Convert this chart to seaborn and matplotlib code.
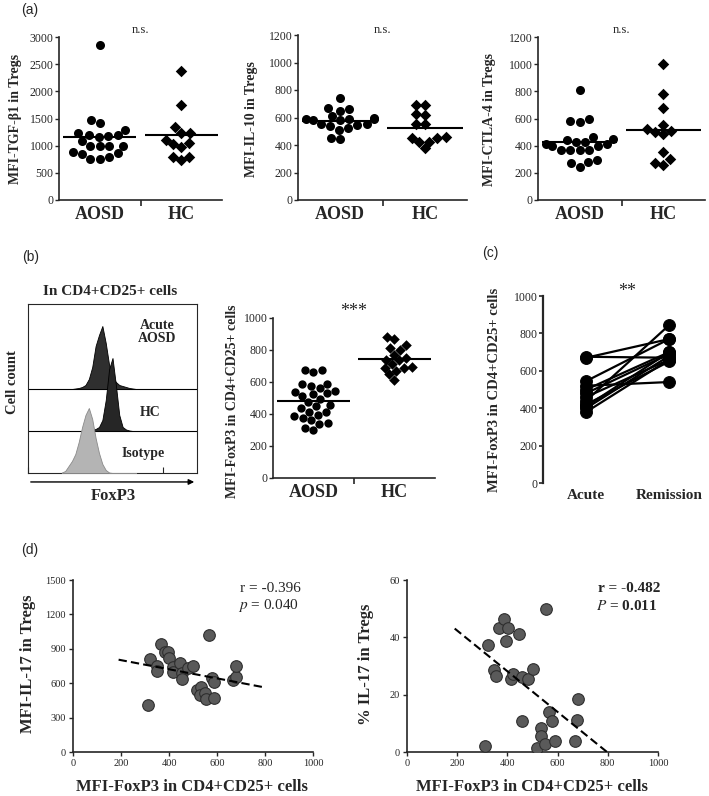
import numpy as np
import pandas as pd
import matplotlib
matplotlib.use("Agg")
import matplotlib.pyplot as plt
import seaborn as sns

# values
groups = ["AOSD", "HC"]

tgf_aosd = [2860, 1480, 1410, 1290, 1240, 1200, 1190, 1180, 1165, 1090,
            1000, 1000, 1000, 1000, 890, 870, 840, 800, 760, 760]
tgf_hc = [2370, 1750, 1340, 1230, 1240, 1110, 970, 1030, 1040, 790, 740, 790]

il10_aosd = [740, 665, 670, 650, 590, 610, 590, 590, 600, 580, 585,
             550, 545, 550, 540, 525, 510, 450, 445]
il10_hc = [690, 690, 620, 625, 550, 550, 455, 450, 420, 375, 425, 450]

ctla4_aosd = [810, 595, 575, 580, 465, 445, 450, 410, 425, 430, 415,
              395, 400, 370, 365, 370, 370, 295, 275, 280, 245]
ctla4_hc = [1000, 780, 675, 525, 500, 485, 510, 555, 355, 300, 270, 260]

foxp3_aosd = [675, 665, 675, 585, 560, 585, 575, 545, 510, 540, 525, 530, 495,
              475, 455, 435, 450, 410, 385, 375, 395, 415, 345, 310, 300, 340, 360]
foxp3_hc = [880, 870, 830, 800, 810, 770, 740, 750, 735, 710, 695, 685, 690,
            670, 650, 615]

# (b) flow histogram: FoxP3 intensity (log10 decades) and curve heights
foxp3_decade = [1.0, 1.1, 1.2, 1.3, 1.4, 1.5, 1.6, 1.7, 1.8, 1.9, 2.0, 2.1,
                2.2, 2.3, 2.4, 2.5, 2.6, 2.7, 2.8, 2.9, 3.0, 3.1, 3.2]
acute_counts = [0, 0, 0, 0, 0.5, 1, 2, 4, 10, 22, 43, 54, 63, 46, 24, 12, 7, 4, 3, 2, 1, 0.5, 0]
hc_counts = [0, 0, 0, 0, 0, 0, 0, 0, 0.5, 1, 2, 4, 11, 31, 62, 73, 46, 16, 4, 1.5, 0.5, 0, 0]
iso_counts = [0.5, 2, 7, 12, 19, 31, 46, 58, 65, 54, 35, 20, 9, 3, 0.5, 0, 0, 0, 0, 0, 0, 0, 0]

# (c) paired samples
stages = ["Acute", "Remission"]
foxp3_acute = [675, 670, 545, 520, 500, 480, 460, 440, 420, 410, 400, 380]
foxp3_remission = [670, 770, 770, 540, 700, 690, 660, 845, 650, 700, 680, 660]

# (d) correlations
d_foxp3_left = [311, 321, 349, 352, 367, 382, 397, 400, 418, 416, 446, 456, 456, 478,
                501, 515, 532, 529, 550, 553, 566, 578, 589, 587, 665, 679, 681]
il17_mfi = [408, 810, 749, 705, 939, 875, 872, 822, 743, 700, 778, 691, 633, 735,
            749, 545, 563, 501, 516, 466, 1020, 641, 609, 475, 630, 656, 749]
d_foxp3_right = [311, 322, 348, 353, 367, 387, 395, 401, 415, 424, 446, 457, 457,
                 483, 501, 517, 534, 532, 550, 554, 566, 579, 589, 669, 678, 682]
il17_pct = [2.1, 37.3, 28.6, 26.6, 43.4, 46.5, 38.8, 43.1, 25.6, 27.2, 41.1, 26.2, 10.8,
            25.3, 29.1, 1.4, 8.5, 5.5, 2.9, 49.9, 14.0, 10.7, 3.8, 3.8, 11.3, 18.4]
fit_span = [190, 800]

sns.set_theme(style="ticks")
plt.rcParams["font.family"] = ["Liberation Serif", "DejaVu Serif"]
plt.rcParams["mathtext.fontset"] = "stix"
plt.rcParams["axes.linewidth"] = 1.2

W, H = 709, 796
fig = plt.figure(figsize=(W / 100, H / 100), dpi=100)


def px_axes(l, t, r, b):
    return fig.add_axes([l / W, 1 - b / H, (r - l) / W, (b - t) / H])


def px_text(x, y, s, **kw):
    kw.setdefault("ha", "center")
    kw.setdefault("va", "center")
    fig.text(x / W, 1 - y / H, s, **kw)


def dot_panel(ax, aosd, hc, ymax, step, size=6.5):
    sns.swarmplot(x=["AOSD"] * len(aosd), y=aosd, order=groups, ax=ax,
                  color="black", marker="o", size=size)
    sns.swarmplot(x=["HC"] * len(hc), y=hc, order=groups, ax=ax,
                  color="black", marker="D", size=size * 0.9)
    for i, vals in enumerate([aosd, hc]):
        ax.hlines(np.mean(vals), i - 0.45, i + 0.45, color="black", lw=1.5, zorder=5)
    ax.set_xlim(-0.5, 1.5)
    ax.set_ylim(0, ymax)
    ax.set_yticks(range(0, ymax + 1, step))
    ax.set_xticks([0, 1])
    ax.set_xticklabels(groups, fontweight="bold", fontsize=13)
    ax.set_xticks([0.5], minor=True)
    ax.tick_params(axis="x", which="major", length=0, pad=4)
    ax.tick_params(axis="x", which="minor", length=4, width=1.2)
    ax.tick_params(axis="y", length=3, width=1, labelsize=8.5, pad=1)
    ax.set_xlabel("")
    ax.set_ylabel("")
    sns.despine(ax=ax)


# ---- (a) ----
a_specs = [
    (tgf_aosd, tgf_hc, 3000, 500, "MFI-TGF-β1 in Tregs", (59, 37, 222, 200), 16),
    (il10_aosd, il10_hc, 1200, 200, "MFI-IL-10 in Tregs", (298, 35, 467, 200), 252),
    (ctla4_aosd, ctla4_hc, 1200, 200, "MFI-CTLA-4 in Tregs", (538, 37, 705, 200), 490),
]
for aosd, hc, ymax, step, lab, box, lx in a_specs:
    ax = px_axes(*box)
    dot_panel(ax, aosd, hc, ymax, step)
    px_text(lx, 119, lab, rotation=90, fontweight="bold", fontsize=10)
    px_text((box[0] + box[2]) / 2, 30, "n.s.", fontsize=9)

# ---- (b) histogram ----
ax = px_axes(28, 304, 197, 473)
xs = 10 ** np.array(foxp3_decade)
ax.axhline(84, color="black", lw=0.8, zorder=1)
ax.axhline(42, color="black", lw=0.8, zorder=1)
ax.fill_between(xs, 84, 84 + np.array(acute_counts), color="#2f2f2f",
                edgecolor="black", lw=0.6, zorder=2)
ax.fill_between(xs, 42, 42 + np.array(hc_counts), color="#262626",
                edgecolor="black", lw=0.6, zorder=3)
ax.fill_between(xs, 0, np.array(iso_counts), color="#b4b4b4",
                edgecolor="#8a8a8a", lw=0.6, zorder=4)
ax.set_xscale("log")
ax.set_xlim(1, 1e5)
ax.set_ylim(0, 169)
ax.set_yticks([])
ax.tick_params(axis="x", which="both", direction="in", labelbottom=False)
ax.tick_params(axis="x", which="major", length=4, width=0.8)
ax.tick_params(axis="x", which="minor", length=2, width=0.6)
for sp in ax.spines.values():
    sp.set_linewidth(0.8)
ax.annotate("", xy=(1.0, -0.053), xytext=(0.0, -0.053), xycoords="axes fraction",
            arrowprops=dict(arrowstyle="-|>", lw=1, color="black", mutation_scale=8),
            annotation_clip=False)
px_text(157, 332, "Acute\nAOSD", fontweight="bold", fontsize=10, linespacing=0.95)
px_text(150, 412, "HC", fontweight="bold", fontsize=10)
px_text(143, 453, "Isotype", fontweight="bold", fontsize=10)
px_text(110, 292, "In CD4+CD25+ cells", fontweight="bold", fontsize=11)
px_text(13, 382, "Cell count", rotation=90, fontweight="bold", fontsize=10.5)
px_text(113, 496, "FoxP3", fontweight="bold", fontsize=12)

# ---- (b) scatter ----
ax = px_axes(273, 318, 435, 478)
dot_panel(ax, foxp3_aosd, foxp3_hc, 1000, 200, size=6)
px_text(232, 401, "MFI-FoxP3 in CD4+CD25+ cells", rotation=90, fontweight="bold", fontsize=10)
px_text(354, 312, "***", fontsize=13)

# ---- (c) paired ----
n = len(foxp3_acute)
df_c = pd.DataFrame({
    "patient": list(range(n)) * 2,
    "stage": [0] * n + [1] * n,
    "mfi": foxp3_acute + foxp3_remission,
})
ax = px_axes(543, 296, 700, 483)
sns.lineplot(data=df_c, x="stage", y="mfi", units="patient", estimator=None,
             color="black", lw=1.6, marker="o", markersize=8.5,
             markeredgecolor="black", ax=ax, legend=False)
ax.set_xlim(-0.52, 1.37)
ax.set_ylim(0, 1000)
ax.set_yticks(range(0, 1001, 200))
ax.set_xticks([0, 1])
ax.set_xticklabels(stages, fontweight="bold", fontsize=11)
ax.tick_params(axis="x", length=0, pad=4)
ax.tick_params(axis="y", length=3, width=1.2, labelsize=8.5, pad=1)
ax.set_xlabel("")
ax.set_ylabel("")
sns.despine(ax=ax, bottom=True)
ax.spines["left"].set_linewidth(1.6)
px_text(494, 390, "MFI-FoxP3 in CD4+CD25+ cells", rotation=90, fontweight="bold", fontsize=10.5)
px_text(627, 292, "**", fontsize=13)

# ---- (d) correlations ----
d_specs = [
    (d_foxp3_left, il17_mfi, 1500, 300, "MFI-IL-17 in Tregs", (73, 580, 313, 752), 28,
     ["r = -0.396", "$p$ = 0.040"], 240, "normal"),
    (d_foxp3_right, il17_pct, 60, 20, "% IL-17 in Tregs", (407, 580, 658, 752), 366,
     ["r = -0.482", "$P$ = 0.011"], 598, "bold"),
]
for fx, fy, ymax, step, lab, box, lx, stats, tx, tw in d_specs:
    ax = px_axes(*box)
    sns.scatterplot(x=fx, y=fy, s=70, color="#5a5a5a", edgecolor="#2e2e2e",
                    linewidth=0.8, ax=ax, zorder=3)
    slope, icpt = np.polyfit(fx, fy, 1)
    span = np.array(fit_span)
    ax.plot(span, slope * span + icpt, color="black", lw=1.5, ls=(0, (4, 2)), zorder=4)
    ax.set_xlim(0, 1000)
    ax.set_ylim(0, ymax)
    ax.set_xticks(range(0, 1001, 200))
    ax.set_yticks(range(0, ymax + 1, step))
    ax.tick_params(length=3, width=1, labelsize=7.5, pad=2)
    ax.set_xlabel("")
    ax.set_ylabel("")
    sns.despine(ax=ax)
    px_text(lx, 664, lab, rotation=90, fontweight="bold", fontsize=12)
    px_text((box[0] + box[2]) / 2 - 1, 787, "MFI-FoxP3 in CD4+CD25+ cells",
            fontweight="bold", fontsize=12)
    px_text(tx, 588, stats[0], ha="left", fontsize=11, fontweight=tw)
    px_text(tx - 2, 606, stats[1], ha="left", fontsize=11, fontweight=tw)

# panel letters
for lx, ly, s in [(30, 10, "(a)"), (31, 257, "(b)"), (490, 253, "(c)"), (30, 550, "(d)")]:
    px_text(lx, ly, s, fontsize=10, family="Liberation Sans")

fig.savefig("out.png", dpi=100)
